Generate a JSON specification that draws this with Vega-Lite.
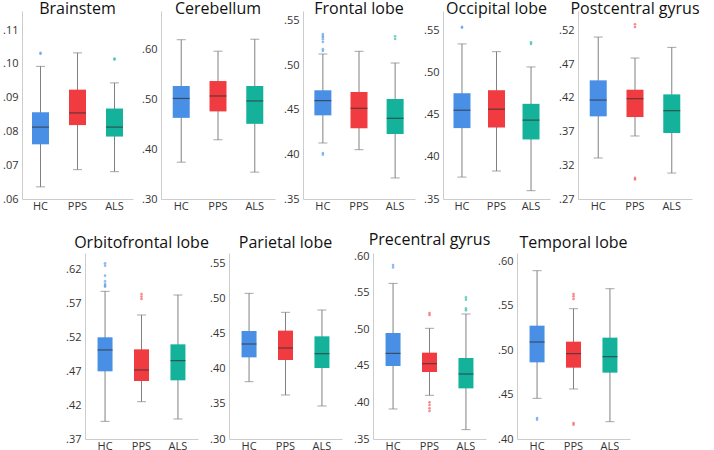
{
  "$schema": "https://vega.github.io/schema/vega-lite/v6.json",
  "padding": {"left": 0, "top": 1, "right": 0, "bottom": 0},
  "config": {
    "view": {"stroke": null},
    "font": "Open Sans",
    "title": {"font": "Open Sans", "fontSize": 16, "fontWeight": "normal", "color": "#111111", "offset": -6, "baseline": "alphabetic"},
    "axis": {"labelFont": "Open Sans", "labelFontSize": 11, "labelColor": "#333333", "domainColor": "#cccccc", "ticks": false, "grid": false, "labelPadding": 4, "labelOverlap": false, "tickCount": 20, "title": null},
    "axisX": {"labelPadding": 1, "labelAngle": 0}
  },
  "datasets": {
    "stats": [
      {"region": "Brainstem", "group": "HC", "lower": 0.0636, "q1": 0.0762, "median": 0.0813, "q3": 0.0857, "upper": 0.0993},
      {"region": "Brainstem", "group": "PPS", "lower": 0.0687, "q1": 0.0819, "median": 0.0855, "q3": 0.0924, "upper": 0.1033},
      {"region": "Brainstem", "group": "ALS", "lower": 0.0681, "q1": 0.0785, "median": 0.0813, "q3": 0.0868, "upper": 0.0944},
      {"region": "Cerebellum", "group": "HC", "lower": 0.374, "q1": 0.463, "median": 0.502, "q3": 0.527, "upper": 0.620},
      {"region": "Cerebellum", "group": "PPS", "lower": 0.419, "q1": 0.476, "median": 0.507, "q3": 0.537, "upper": 0.597},
      {"region": "Cerebellum", "group": "ALS", "lower": 0.354, "q1": 0.451, "median": 0.497, "q3": 0.527, "upper": 0.621},
      {"region": "Frontal lobe", "group": "HC", "lower": 0.4128, "q1": 0.4438, "median": 0.4603, "q3": 0.4719, "upper": 0.5126},
      {"region": "Frontal lobe", "group": "PPS", "lower": 0.4053, "q1": 0.4293, "median": 0.4517, "q3": 0.470, "upper": 0.5156},
      {"region": "Frontal lobe", "group": "ALS", "lower": 0.3736, "q1": 0.4229, "median": 0.4405, "q3": 0.4621, "upper": 0.5025},
      {"region": "Occipital lobe", "group": "HC", "lower": 0.3761, "q1": 0.4344, "median": 0.4557, "q3": 0.4759, "upper": 0.5346},
      {"region": "Occipital lobe", "group": "PPS", "lower": 0.3833, "q1": 0.4351, "median": 0.4569, "q3": 0.4795, "upper": 0.5254},
      {"region": "Occipital lobe", "group": "ALS", "lower": 0.3599, "q1": 0.4209, "median": 0.4439, "q3": 0.4633, "upper": 0.5072},
      {"region": "Postcentral gyrus", "group": "HC", "lower": 0.3308, "q1": 0.3925, "median": 0.4167, "q3": 0.4459, "upper": 0.5101},
      {"region": "Postcentral gyrus", "group": "PPS", "lower": 0.3634, "q1": 0.3915, "median": 0.4187, "q3": 0.432, "upper": 0.479},
      {"region": "Postcentral gyrus", "group": "ALS", "lower": 0.3085, "q1": 0.3678, "median": 0.4009, "q3": 0.4251, "upper": 0.4948},
      {"region": "Orbitofrontal lobe", "group": "HC", "lower": 0.3961, "q1": 0.4701, "median": 0.5017, "q3": 0.5204, "upper": 0.5884},
      {"region": "Orbitofrontal lobe", "group": "PPS", "lower": 0.4252, "q1": 0.4558, "median": 0.4721, "q3": 0.5026, "upper": 0.5534},
      {"region": "Orbitofrontal lobe", "group": "ALS", "lower": 0.3996, "q1": 0.4568, "median": 0.4859, "q3": 0.510, "upper": 0.583},
      {"region": "Parietal lobe", "group": "HC", "lower": 0.3816, "q1": 0.4162, "median": 0.4352, "q3": 0.4537, "upper": 0.5073},
      {"region": "Parietal lobe", "group": "PPS", "lower": 0.3626, "q1": 0.4124, "median": 0.4295, "q3": 0.4542, "upper": 0.4803},
      {"region": "Parietal lobe", "group": "ALS", "lower": 0.347, "q1": 0.401, "median": 0.4214, "q3": 0.4461, "upper": 0.4836},
      {"region": "Precentral gyrus", "group": "HC", "lower": 0.3911, "q1": 0.4499, "median": 0.4672, "q3": 0.4951, "upper": 0.563},
      {"region": "Precentral gyrus", "group": "PPS", "lower": 0.4098, "q1": 0.4417, "median": 0.4531, "q3": 0.4682, "upper": 0.5015},
      {"region": "Precentral gyrus", "group": "ALS", "lower": 0.3628, "q1": 0.4193, "median": 0.439, "q3": 0.4609, "upper": 0.5211},
      {"region": "Temporal lobe", "group": "HC", "lower": 0.4458, "q1": 0.4863, "median": 0.5092, "q3": 0.5276, "upper": 0.5895},
      {"region": "Temporal lobe", "group": "PPS", "lower": 0.4563, "q1": 0.4803, "median": 0.4961, "q3": 0.5096, "upper": 0.5467},
      {"region": "Temporal lobe", "group": "ALS", "lower": 0.4195, "q1": 0.4747, "median": 0.4927, "q3": 0.5141, "upper": 0.5692}
    ],
    "outliers": [
      {"region": "Brainstem", "group": "HC", "value": 0.1033},
      {"region": "Brainstem", "group": "HC", "value": 0.1030},
      {"region": "Brainstem", "group": "ALS", "value": 0.1016},
      {"region": "Brainstem", "group": "ALS", "value": 0.1013},
      {"region": "Frontal lobe", "group": "HC", "value": 0.535},
      {"region": "Frontal lobe", "group": "HC", "value": 0.533},
      {"region": "Frontal lobe", "group": "HC", "value": 0.5315},
      {"region": "Frontal lobe", "group": "HC", "value": 0.529},
      {"region": "Frontal lobe", "group": "HC", "value": 0.526},
      {"region": "Frontal lobe", "group": "HC", "value": 0.518},
      {"region": "Frontal lobe", "group": "HC", "value": 0.516},
      {"region": "Frontal lobe", "group": "HC", "value": 0.4016},
      {"region": "Frontal lobe", "group": "HC", "value": 0.3997},
      {"region": "Frontal lobe", "group": "ALS", "value": 0.5324},
      {"region": "Frontal lobe", "group": "ALS", "value": 0.5294},
      {"region": "Occipital lobe", "group": "HC", "value": 0.5551},
      {"region": "Occipital lobe", "group": "HC", "value": 0.5538},
      {"region": "Occipital lobe", "group": "ALS", "value": 0.5365},
      {"region": "Occipital lobe", "group": "ALS", "value": 0.5345},
      {"region": "Postcentral gyrus", "group": "PPS", "value": 0.529},
      {"region": "Postcentral gyrus", "group": "PPS", "value": 0.525},
      {"region": "Postcentral gyrus", "group": "PPS", "value": 0.3014},
      {"region": "Postcentral gyrus", "group": "PPS", "value": 0.299},
      {"region": "Orbitofrontal lobe", "group": "HC", "value": 0.6299},
      {"region": "Orbitofrontal lobe", "group": "HC", "value": 0.6264},
      {"region": "Orbitofrontal lobe", "group": "HC", "value": 0.6116},
      {"region": "Orbitofrontal lobe", "group": "HC", "value": 0.6032},
      {"region": "Orbitofrontal lobe", "group": "HC", "value": 0.5993},
      {"region": "Orbitofrontal lobe", "group": "HC", "value": 0.5968},
      {"region": "Orbitofrontal lobe", "group": "HC", "value": 0.5953},
      {"region": "Orbitofrontal lobe", "group": "PPS", "value": 0.5845},
      {"region": "Orbitofrontal lobe", "group": "PPS", "value": 0.5806},
      {"region": "Orbitofrontal lobe", "group": "PPS", "value": 0.5771},
      {"region": "Precentral gyrus", "group": "HC", "value": 0.5881},
      {"region": "Precentral gyrus", "group": "HC", "value": 0.5849},
      {"region": "Precentral gyrus", "group": "PPS", "value": 0.5224},
      {"region": "Precentral gyrus", "group": "PPS", "value": 0.5197},
      {"region": "Precentral gyrus", "group": "PPS", "value": 0.4002},
      {"region": "Precentral gyrus", "group": "PPS", "value": 0.3965},
      {"region": "Precentral gyrus", "group": "PPS", "value": 0.392},
      {"region": "Precentral gyrus", "group": "PPS", "value": 0.3883},
      {"region": "Precentral gyrus", "group": "ALS", "value": 0.5439},
      {"region": "Precentral gyrus", "group": "ALS", "value": 0.5407},
      {"region": "Precentral gyrus", "group": "ALS", "value": 0.5288},
      {"region": "Precentral gyrus", "group": "ALS", "value": 0.5261},
      {"region": "Temporal lobe", "group": "HC", "value": 0.4236},
      {"region": "Temporal lobe", "group": "HC", "value": 0.4218},
      {"region": "Temporal lobe", "group": "PPS", "value": 0.5632},
      {"region": "Temporal lobe", "group": "PPS", "value": 0.5606},
      {"region": "Temporal lobe", "group": "PPS", "value": 0.5576},
      {"region": "Temporal lobe", "group": "PPS", "value": 0.418},
      {"region": "Temporal lobe", "group": "PPS", "value": 0.4161}
    ]
  },
  "spacing": 21,
  "vconcat": [
    {
      "spacing": 28,
      "bounds": "flush",
      "hconcat": [
        {
          "width": 111, "height": 188, "title": "Brainstem",
          "data": {"name": "stats"},
          "transform": [{"filter": "datum.region === 'Brainstem'"}],
          "encoding": {"x": {"field": "group", "type": "nominal", "sort": ["HC", "PPS", "ALS"], "scale": {"paddingOuter": 0.1, "paddingInner": 0.2}, "axis": {"title": null, "labelAngle": 0}}},
          "layer": [
            {"mark": {"type": "rule", "color": "#808080"}, "encoding": {"y": {"field": "lower", "type": "quantitative", "scale": {"domain": [0.06, 0.1157], "nice": false}, "axis": {"values": [0.06, 0.07, 0.08, 0.09, 0.10, 0.11], "tickCount": 20, "labelOverlap": false, "minExtent": 22, "labelExpr": "slice(format(datum.value, '.2f'), 1)"}}, "y2": {"field": "upper"}}},
            {"transform": [{"fold": ["lower", "upper"], "as": ["k", "v"]}], "mark": {"type": "tick", "color": "#808080", "size": 9, "thickness": 1}, "encoding": {"y": {"field": "v", "type": "quantitative", "scale": {"domain": [0.06, 0.1157], "nice": false}}}},
            {"mark": {"type": "bar", "size": 17}, "encoding": {"y": {"field": "q1", "type": "quantitative", "scale": {"domain": [0.06, 0.1157], "nice": false}}, "y2": {"field": "q3"}, "color": {"field": "group", "type": "nominal", "scale": {"domain": ["HC", "PPS", "ALS"], "range": ["#4a8fe6", "#f03c41", "#14b29a"]}, "legend": null}}},
            {"mark": {"type": "tick", "color": "#303030", "size": 17, "thickness": 1.2}, "encoding": {"y": {"field": "median", "type": "quantitative", "scale": {"domain": [0.06, 0.1157], "nice": false}}}},
            {"data": {"name": "outliers"}, "transform": [{"filter": "datum.region === 'Brainstem'"}], "mark": {"type": "circle", "size": 7, "opacity": 0.6}, "encoding": {"y": {"field": "value", "type": "quantitative", "scale": {"domain": [0.06, 0.1157], "nice": false}}, "color": {"field": "group", "type": "nominal", "scale": {"domain": ["HC", "PPS", "ALS"], "range": ["#4a8fe6", "#f03c41", "#14b29a"]}, "legend": null}}}
          ]
        },
        {
          "width": 114, "height": 188, "title": "Cerebellum",
          "data": {"name": "stats"},
          "transform": [{"filter": "datum.region === 'Cerebellum'"}],
          "encoding": {"x": {"field": "group", "type": "nominal", "sort": ["HC", "PPS", "ALS"], "scale": {"paddingOuter": 0.15, "paddingInner": 0.2}, "axis": {"title": null, "labelAngle": 0}}},
          "layer": [
            {"mark": {"type": "rule", "color": "#808080"}, "encoding": {"y": {"field": "lower", "type": "quantitative", "scale": {"domain": [0.30, 0.6777], "nice": false}, "axis": {"values": [0.30, 0.40, 0.50, 0.60], "tickCount": 20, "labelOverlap": false, "labelExpr": "slice(format(datum.value, '.2f'), 1)"}}, "y2": {"field": "upper"}}},
            {"transform": [{"fold": ["lower", "upper"], "as": ["k", "v"]}], "mark": {"type": "tick", "color": "#808080", "size": 9, "thickness": 1}, "encoding": {"y": {"field": "v", "type": "quantitative", "scale": {"domain": [0.30, 0.6777], "nice": false}}}},
            {"mark": {"type": "bar", "size": 17}, "encoding": {"y": {"field": "q1", "type": "quantitative", "scale": {"domain": [0.30, 0.6777], "nice": false}}, "y2": {"field": "q3"}, "color": {"field": "group", "type": "nominal", "scale": {"domain": ["HC", "PPS", "ALS"], "range": ["#4a8fe6", "#f03c41", "#14b29a"]}, "legend": null}}},
            {"mark": {"type": "tick", "color": "#303030", "size": 17, "thickness": 1.2}, "encoding": {"y": {"field": "median", "type": "quantitative", "scale": {"domain": [0.30, 0.6777], "nice": false}}}}
          ]
        },
        {
          "width": 112, "height": 188, "title": "Frontal lobe",
          "data": {"name": "stats"},
          "transform": [{"filter": "datum.region === 'Frontal lobe'"}],
          "encoding": {"x": {"field": "group", "type": "nominal", "sort": ["HC", "PPS", "ALS"], "scale": {"paddingOuter": 0.15, "paddingInner": 0.2}, "axis": {"title": null, "labelAngle": 0}}},
          "layer": [
            {"mark": {"type": "rule", "color": "#808080"}, "encoding": {"y": {"field": "lower", "type": "quantitative", "scale": {"domain": [0.35, 0.5608], "nice": false}, "axis": {"values": [0.35, 0.40, 0.45, 0.50, 0.55], "tickCount": 20, "labelOverlap": false, "labelExpr": "slice(format(datum.value, '.2f'), 1)"}}, "y2": {"field": "upper"}}},
            {"transform": [{"fold": ["lower", "upper"], "as": ["k", "v"]}], "mark": {"type": "tick", "color": "#808080", "size": 9, "thickness": 1}, "encoding": {"y": {"field": "v", "type": "quantitative", "scale": {"domain": [0.35, 0.5608], "nice": false}}}},
            {"mark": {"type": "bar", "size": 17}, "encoding": {"y": {"field": "q1", "type": "quantitative", "scale": {"domain": [0.35, 0.5608], "nice": false}}, "y2": {"field": "q3"}, "color": {"field": "group", "type": "nominal", "scale": {"domain": ["HC", "PPS", "ALS"], "range": ["#4a8fe6", "#f03c41", "#14b29a"]}, "legend": null}}},
            {"mark": {"type": "tick", "color": "#303030", "size": 17, "thickness": 1.2}, "encoding": {"y": {"field": "median", "type": "quantitative", "scale": {"domain": [0.35, 0.5608], "nice": false}}}},
            {"data": {"name": "outliers"}, "transform": [{"filter": "datum.region === 'Frontal lobe'"}], "mark": {"type": "circle", "size": 7, "opacity": 0.6}, "encoding": {"y": {"field": "value", "type": "quantitative", "scale": {"domain": [0.35, 0.5608], "nice": false}}, "color": {"field": "group", "type": "nominal", "scale": {"domain": ["HC", "PPS", "ALS"], "range": ["#4a8fe6", "#f03c41", "#14b29a"]}, "legend": null}}}
          ]
        },
        {
          "width": 107, "height": 188, "title": "Occipital lobe",
          "data": {"name": "stats"},
          "transform": [{"filter": "datum.region === 'Occipital lobe'"}],
          "encoding": {"x": {"field": "group", "type": "nominal", "sort": ["HC", "PPS", "ALS"], "scale": {"paddingOuter": 0.15, "paddingInner": 0.2}, "axis": {"title": null, "labelAngle": 0}}},
          "layer": [
            {"mark": {"type": "rule", "color": "#808080"}, "encoding": {"y": {"field": "lower", "type": "quantitative", "scale": {"domain": [0.35, 0.5738], "nice": false}, "axis": {"values": [0.35, 0.40, 0.45, 0.50, 0.55], "tickCount": 20, "labelOverlap": false, "labelExpr": "slice(format(datum.value, '.2f'), 1)"}}, "y2": {"field": "upper"}}},
            {"transform": [{"fold": ["lower", "upper"], "as": ["k", "v"]}], "mark": {"type": "tick", "color": "#808080", "size": 9, "thickness": 1}, "encoding": {"y": {"field": "v", "type": "quantitative", "scale": {"domain": [0.35, 0.5738], "nice": false}}}},
            {"mark": {"type": "bar", "size": 17}, "encoding": {"y": {"field": "q1", "type": "quantitative", "scale": {"domain": [0.35, 0.5738], "nice": false}}, "y2": {"field": "q3"}, "color": {"field": "group", "type": "nominal", "scale": {"domain": ["HC", "PPS", "ALS"], "range": ["#4a8fe6", "#f03c41", "#14b29a"]}, "legend": null}}},
            {"mark": {"type": "tick", "color": "#303030", "size": 17, "thickness": 1.2}, "encoding": {"y": {"field": "median", "type": "quantitative", "scale": {"domain": [0.35, 0.5738], "nice": false}}}},
            {"data": {"name": "outliers"}, "transform": [{"filter": "datum.region === 'Occipital lobe'"}], "mark": {"type": "circle", "size": 7, "opacity": 0.6}, "encoding": {"y": {"field": "value", "type": "quantitative", "scale": {"domain": [0.35, 0.5738], "nice": false}}, "color": {"field": "group", "type": "nominal", "scale": {"domain": ["HC", "PPS", "ALS"], "range": ["#4a8fe6", "#f03c41", "#14b29a"]}, "legend": null}}}
          ]
        },
        {
          "width": 114, "height": 188, "title": "Postcentral gyrus",
          "data": {"name": "stats"},
          "transform": [{"filter": "datum.region === 'Postcentral gyrus'"}],
          "encoding": {"x": {"field": "group", "type": "nominal", "sort": ["HC", "PPS", "ALS"], "scale": {"paddingOuter": 0.15, "paddingInner": 0.2}, "axis": {"title": null, "labelAngle": 0}}},
          "layer": [
            {"mark": {"type": "rule", "color": "#808080"}, "encoding": {"y": {"field": "lower", "type": "quantitative", "scale": {"domain": [0.27, 0.5487], "nice": false}, "axis": {"values": [0.27, 0.32, 0.37, 0.42, 0.47, 0.52], "tickCount": 20, "labelOverlap": false, "labelExpr": "slice(format(datum.value, '.2f'), 1)"}}, "y2": {"field": "upper"}}},
            {"transform": [{"fold": ["lower", "upper"], "as": ["k", "v"]}], "mark": {"type": "tick", "color": "#808080", "size": 9, "thickness": 1}, "encoding": {"y": {"field": "v", "type": "quantitative", "scale": {"domain": [0.27, 0.5487], "nice": false}}}},
            {"mark": {"type": "bar", "size": 17}, "encoding": {"y": {"field": "q1", "type": "quantitative", "scale": {"domain": [0.27, 0.5487], "nice": false}}, "y2": {"field": "q3"}, "color": {"field": "group", "type": "nominal", "scale": {"domain": ["HC", "PPS", "ALS"], "range": ["#4a8fe6", "#f03c41", "#14b29a"]}, "legend": null}}},
            {"mark": {"type": "tick", "color": "#303030", "size": 17, "thickness": 1.2}, "encoding": {"y": {"field": "median", "type": "quantitative", "scale": {"domain": [0.27, 0.5487], "nice": false}}}},
            {"data": {"name": "outliers"}, "transform": [{"filter": "datum.region === 'Postcentral gyrus'"}], "mark": {"type": "circle", "size": 7, "opacity": 0.6}, "encoding": {"y": {"field": "value", "type": "quantitative", "scale": {"domain": [0.27, 0.5487], "nice": false}}, "color": {"field": "group", "type": "nominal", "scale": {"domain": ["HC", "PPS", "ALS"], "range": ["#4a8fe6", "#f03c41", "#14b29a"]}, "legend": null}}}
          ]
        }
      ]
    },
    {
      "spacing": 31,
      "bounds": "flush",
      "hconcat": [
        {
          "width": 32, "height": 186,
          "data": {"values": [{"spacer": 0}]},
          "mark": {"type": "point", "opacity": 0},
          "encoding": {}
        },
        {
          "width": 113, "height": 186, "title": {"text": "Orbitofrontal lobe", "offset": 2},
          "data": {"name": "stats"},
          "transform": [{"filter": "datum.region === 'Orbitofrontal lobe'"}],
          "encoding": {"x": {"field": "group", "type": "nominal", "sort": ["HC", "PPS", "ALS"], "scale": {"paddingOuter": 0.15, "paddingInner": 0.2}, "axis": {"title": null, "labelAngle": 0}}},
          "layer": [
            {"mark": {"type": "rule", "color": "#808080"}, "encoding": {"y": {"field": "lower", "type": "quantitative", "scale": {"domain": [0.37, 0.6451], "nice": false}, "axis": {"values": [0.37, 0.42, 0.47, 0.52, 0.57, 0.62], "tickCount": 20, "labelOverlap": false, "labelExpr": "slice(format(datum.value, '.2f'), 1)"}}, "y2": {"field": "upper"}}},
            {"transform": [{"fold": ["lower", "upper"], "as": ["k", "v"]}], "mark": {"type": "tick", "color": "#808080", "size": 9, "thickness": 1}, "encoding": {"y": {"field": "v", "type": "quantitative", "scale": {"domain": [0.37, 0.6451], "nice": false}}}},
            {"mark": {"type": "bar", "size": 15}, "encoding": {"y": {"field": "q1", "type": "quantitative", "scale": {"domain": [0.37, 0.6451], "nice": false}}, "y2": {"field": "q3"}, "color": {"field": "group", "type": "nominal", "scale": {"domain": ["HC", "PPS", "ALS"], "range": ["#4a8fe6", "#f03c41", "#14b29a"]}, "legend": null}}},
            {"mark": {"type": "tick", "color": "#303030", "size": 15, "thickness": 1.2}, "encoding": {"y": {"field": "median", "type": "quantitative", "scale": {"domain": [0.37, 0.6451], "nice": false}}}},
            {"data": {"name": "outliers"}, "transform": [{"filter": "datum.region === 'Orbitofrontal lobe'"}], "mark": {"type": "circle", "size": 7, "opacity": 0.6}, "encoding": {"y": {"field": "value", "type": "quantitative", "scale": {"domain": [0.37, 0.6451], "nice": false}}, "color": {"field": "group", "type": "nominal", "scale": {"domain": ["HC", "PPS", "ALS"], "range": ["#4a8fe6", "#f03c41", "#14b29a"]}, "legend": null}}}
          ]
        },
        {
          "width": 113, "height": 186, "title": {"text": "Parietal lobe", "offset": 2},
          "data": {"name": "stats"},
          "transform": [{"filter": "datum.region === 'Parietal lobe'"}],
          "encoding": {"x": {"field": "group", "type": "nominal", "sort": ["HC", "PPS", "ALS"], "scale": {"paddingOuter": 0.15, "paddingInner": 0.2}, "axis": {"title": null, "labelAngle": 0}}},
          "layer": [
            {"mark": {"type": "rule", "color": "#808080"}, "encoding": {"y": {"field": "lower", "type": "quantitative", "scale": {"domain": [0.30, 0.5647], "nice": false}, "axis": {"values": [0.30, 0.35, 0.40, 0.45, 0.50, 0.55], "tickCount": 20, "labelOverlap": false, "labelExpr": "slice(format(datum.value, '.2f'), 1)"}}, "y2": {"field": "upper"}}},
            {"transform": [{"fold": ["lower", "upper"], "as": ["k", "v"]}], "mark": {"type": "tick", "color": "#808080", "size": 9, "thickness": 1}, "encoding": {"y": {"field": "v", "type": "quantitative", "scale": {"domain": [0.30, 0.5647], "nice": false}}}},
            {"mark": {"type": "bar", "size": 15}, "encoding": {"y": {"field": "q1", "type": "quantitative", "scale": {"domain": [0.30, 0.5647], "nice": false}}, "y2": {"field": "q3"}, "color": {"field": "group", "type": "nominal", "scale": {"domain": ["HC", "PPS", "ALS"], "range": ["#4a8fe6", "#f03c41", "#14b29a"]}, "legend": null}}},
            {"mark": {"type": "tick", "color": "#303030", "size": 15, "thickness": 1.2}, "encoding": {"y": {"field": "median", "type": "quantitative", "scale": {"domain": [0.30, 0.5647], "nice": false}}}}
          ]
        },
        {
          "width": 113, "height": 186, "title": {"text": "Precentral gyrus", "offset": 2},
          "data": {"name": "stats"},
          "transform": [{"filter": "datum.region === 'Precentral gyrus'"}],
          "encoding": {"x": {"field": "group", "type": "nominal", "sort": ["HC", "PPS", "ALS"], "scale": {"paddingOuter": 0.15, "paddingInner": 0.2}, "axis": {"title": null, "labelAngle": 0}}},
          "layer": [
            {"mark": {"type": "rule", "color": "#808080"}, "encoding": {"y": {"field": "lower", "type": "quantitative", "scale": {"domain": [0.35, 0.6046], "nice": false}, "axis": {"values": [0.35, 0.40, 0.45, 0.50, 0.55, 0.60], "tickCount": 20, "labelOverlap": false, "labelExpr": "slice(format(datum.value, '.2f'), 1)"}}, "y2": {"field": "upper"}}},
            {"transform": [{"fold": ["lower", "upper"], "as": ["k", "v"]}], "mark": {"type": "tick", "color": "#808080", "size": 9, "thickness": 1}, "encoding": {"y": {"field": "v", "type": "quantitative", "scale": {"domain": [0.35, 0.6046], "nice": false}}}},
            {"mark": {"type": "bar", "size": 15}, "encoding": {"y": {"field": "q1", "type": "quantitative", "scale": {"domain": [0.35, 0.6046], "nice": false}}, "y2": {"field": "q3"}, "color": {"field": "group", "type": "nominal", "scale": {"domain": ["HC", "PPS", "ALS"], "range": ["#4a8fe6", "#f03c41", "#14b29a"]}, "legend": null}}},
            {"mark": {"type": "tick", "color": "#303030", "size": 15, "thickness": 1.2}, "encoding": {"y": {"field": "median", "type": "quantitative", "scale": {"domain": [0.35, 0.6046], "nice": false}}}},
            {"data": {"name": "outliers"}, "transform": [{"filter": "datum.region === 'Precentral gyrus'"}], "mark": {"type": "circle", "size": 7, "opacity": 0.6}, "encoding": {"y": {"field": "value", "type": "quantitative", "scale": {"domain": [0.35, 0.6046], "nice": false}}, "color": {"field": "group", "type": "nominal", "scale": {"domain": ["HC", "PPS", "ALS"], "range": ["#4a8fe6", "#f03c41", "#14b29a"]}, "legend": null}}}
          ]
        },
        {
          "width": 113, "height": 186, "title": {"text": "Temporal lobe", "offset": 2},
          "data": {"name": "stats"},
          "transform": [{"filter": "datum.region === 'Temporal lobe'"}],
          "encoding": {"x": {"field": "group", "type": "nominal", "sort": ["HC", "PPS", "ALS"], "scale": {"paddingOuter": 0.15, "paddingInner": 0.2}, "axis": {"title": null, "labelAngle": 0}}},
          "layer": [
            {"mark": {"type": "rule", "color": "#808080"}, "encoding": {"y": {"field": "lower", "type": "quantitative", "scale": {"domain": [0.40, 0.6094], "nice": false}, "axis": {"values": [0.40, 0.45, 0.50, 0.55, 0.60], "tickCount": 20, "labelOverlap": false, "labelExpr": "slice(format(datum.value, '.2f'), 1)"}}, "y2": {"field": "upper"}}},
            {"transform": [{"fold": ["lower", "upper"], "as": ["k", "v"]}], "mark": {"type": "tick", "color": "#808080", "size": 9, "thickness": 1}, "encoding": {"y": {"field": "v", "type": "quantitative", "scale": {"domain": [0.40, 0.6094], "nice": false}}}},
            {"mark": {"type": "bar", "size": 15}, "encoding": {"y": {"field": "q1", "type": "quantitative", "scale": {"domain": [0.40, 0.6094], "nice": false}}, "y2": {"field": "q3"}, "color": {"field": "group", "type": "nominal", "scale": {"domain": ["HC", "PPS", "ALS"], "range": ["#4a8fe6", "#f03c41", "#14b29a"]}, "legend": null}}},
            {"mark": {"type": "tick", "color": "#303030", "size": 15, "thickness": 1.2}, "encoding": {"y": {"field": "median", "type": "quantitative", "scale": {"domain": [0.40, 0.6094], "nice": false}}}},
            {"data": {"name": "outliers"}, "transform": [{"filter": "datum.region === 'Temporal lobe'"}], "mark": {"type": "circle", "size": 7, "opacity": 0.6}, "encoding": {"y": {"field": "value", "type": "quantitative", "scale": {"domain": [0.40, 0.6094], "nice": false}}, "color": {"field": "group", "type": "nominal", "scale": {"domain": ["HC", "PPS", "ALS"], "range": ["#4a8fe6", "#f03c41", "#14b29a"]}, "legend": null}}}
          ]
        }
      ]
    }
  ]
}
